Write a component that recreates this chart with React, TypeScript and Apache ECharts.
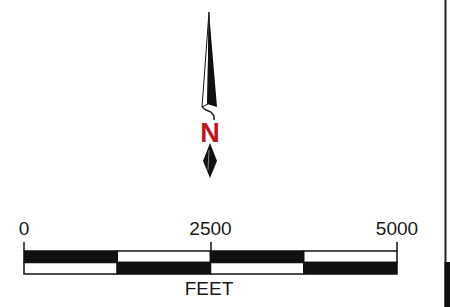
import React, { useEffect, useRef } from "react";
import * as echarts from "echarts";

const scaleTicks = [0, 2500, 5000];
const unitLabel = "FEET";
// segments of the scale bar: [start, end, row, filled(1)/empty(0)]
const segStart = [0, 1250, 2500, 3750];
const segEnd = [1250, 2500, 3750, 5000];
const topRowFill = [1, 0, 1, 0];
const bottomRowFill = [0, 1, 0, 1];
const northLabel = "N";

export default function App() {
  const ref = useRef<HTMLDivElement>(null);
  useEffect(() => {
    if (!ref.current) return;
    const chart = echarts.init(ref.current, undefined, { renderer: "svg" });
    const data: number[][] = [];
    segStart.forEach((s, i) => {
      data.push([s, segEnd[i], 0, topRowFill[i]]);
      data.push([s, segEnd[i], 1, bottomRowFill[i]]);
    });
    const font = "'Liberation Sans', Arial, sans-serif";
    chart.setOption({
      animation: false,
      backgroundColor: "#ffffff",
      grid: { left: 24, right: 53, top: 251, bottom: 33 },
      xAxis: {
        type: "value",
        min: 0,
        max: 5000,
        interval: 2500,
        position: "top",
        splitLine: { show: false },
        axisLine: { show: false },
        axisTick: { show: true, length: 9, lineStyle: { color: "#111", width: 1.5 } },
        axisLabel: {
          color: "#1a1a1a",
          fontFamily: font,
          fontSize: 19,
          margin: 13,
          formatter: (v: number) => (scaleTicks.includes(v) ? String(v) : ""),
        },
      },
      yAxis: {
        type: "value",
        min: 0,
        max: 2,
        inverse: true,
        show: false,
      },
      series: [
        {
          type: "custom",
          data,
          renderItem: (params: any, api: any) => {
            const p0 = api.coord([api.value(0), api.value(2)]);
            const p1 = api.coord([api.value(1), api.value(2) + 1]);
            return {
              type: "rect",
              shape: { x: p0[0], y: p0[1], width: p1[0] - p0[0], height: p1[1] - p0[1] },
              style: {
                fill: api.value(3) ? "#111111" : "#ffffff",
                stroke: "#111111",
                lineWidth: 1.5,
              },
            };
          },
        },
      ],
      graphic: [
        {
          type: "text",
          x: 209,
          y: 288,
          style: {
            text: unitLabel,
            fontFamily: font,
            fontSize: 19,
            fill: "#1a1a1a",
            align: "center",
            verticalAlign: "middle",
          },
        },
        // right border
        { type: "rect", shape: { x: 444.5, y: 0, width: 2, height: 307 }, style: { fill: "#222" } },
        { type: "rect", shape: { x: 444.5, y: 262, width: 5.5, height: 45 }, style: { fill: "#111" } },
        // north arrow: left outlined half
        {
          type: "polygon",
          shape: { points: [[209, 12], [202, 107], [208, 104]] },
          style: { fill: "#ffffff", stroke: "#111", lineWidth: 1 },
        },
        // right black half
        {
          type: "polygon",
          shape: { points: [[209, 12], [217, 107], [207, 104]] },
          style: { fill: "#111111" },
        },
        // hook under arrow
        {
          type: "polyline",
          shape: { points: [[202, 107], [206, 110], [211, 112], [214, 116], [214, 120]] },
          style: { stroke: "#222", lineWidth: 1.5, fill: null },
        },
        {
          type: "text",
          x: 210,
          y: 133,
          style: {
            text: northLabel,
            fontFamily: font,
            fontWeight: "bold",
            fontSize: 27,
            fill: "#c0141e",
            align: "center",
            verticalAlign: "middle",
          },
        },
        // tail diamond
        {
          type: "polygon",
          shape: { points: [[210, 143], [217, 161], [210, 178], [203, 161]] },
          style: { fill: "#111111" },
        },
        {
          type: "line",
          shape: { x1: 209, y1: 150, x2: 208, y2: 170 },
          style: { stroke: "#888", lineWidth: 1 },
        },
      ],
    });
    return () => chart.dispose();
  }, []);
  return (
    <div
      ref={ref}
      style={{ position: "fixed", left: 0, top: 0, width: 450, height: 307, background: "#fff" }}
    />
  );
}
